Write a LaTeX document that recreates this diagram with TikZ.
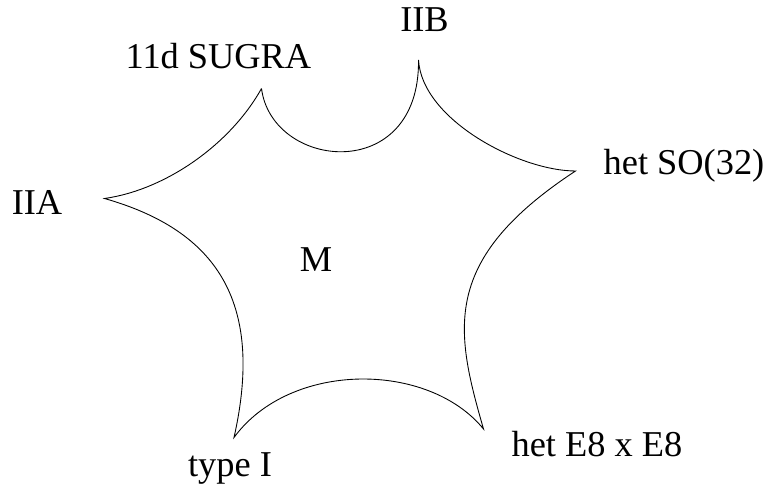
\documentclass[tikz,border=0pt]{standalone}
\usepackage{fontspec}
\setmainfont{Liberation Serif}
\usepackage{tikz}
\tikzset{>=latex}
\tikzset{theory/.style={anchor=base, inner sep=0pt, font=\fontsize{20.7}{24}\selectfont}}

\begin{document}
\begin{tikzpicture}
    \useasboundingbox (0, 0) rectangle (15.34, 9.74);
    % cusps of the moduli space
    \coordinate (sugra) at (5.23, 7.97);
    \coordinate (iib) at (8.37, 8.54);
    \coordinate (so) at (11.51, 6.32);
    \coordinate (ee) at (9.67, 1.16);
    \coordinate (ti) at (4.68, 0.99);
    \coordinate (iia) at (2.09, 5.77);
    \draw[line width=0.5pt] (sugra)
      .. controls (5.44, 6.34) and (8.40, 6.04) .. (iib)
      .. controls (8.44, 7.34) and (10.40, 6.32) .. (so)
      .. controls (8.80, 4.54) and (9.10, 3.14) .. (ee)
      .. controls (8.56, 2.52) and (5.80, 2.52) .. (ti)
      .. controls (5.30, 3.74) and (4.30, 5.14) .. (iia)
      .. controls (3.30, 5.94) and (4.60, 6.84) .. (sugra);
    % labels
    \node[theory] (lsugra) at (4.37, 8.37) {11d SUGRA};
    \node[theory] (liib) at (8.49, 9.11) {IIB};
    \node[theory] (lso) at (13.68, 6.24) {het SO(32)};
    \node[theory] (lee) at (11.94, 0.61) {het E8 x E8};
    \node[theory] (lti) at (4.60, 0.21) {type I};
    \node[theory] (liia) at (0.74, 5.44) {IIA};
    \node[theory] (m) at (6.32, 4.31) {M};
\end{tikzpicture}
\end{document}
